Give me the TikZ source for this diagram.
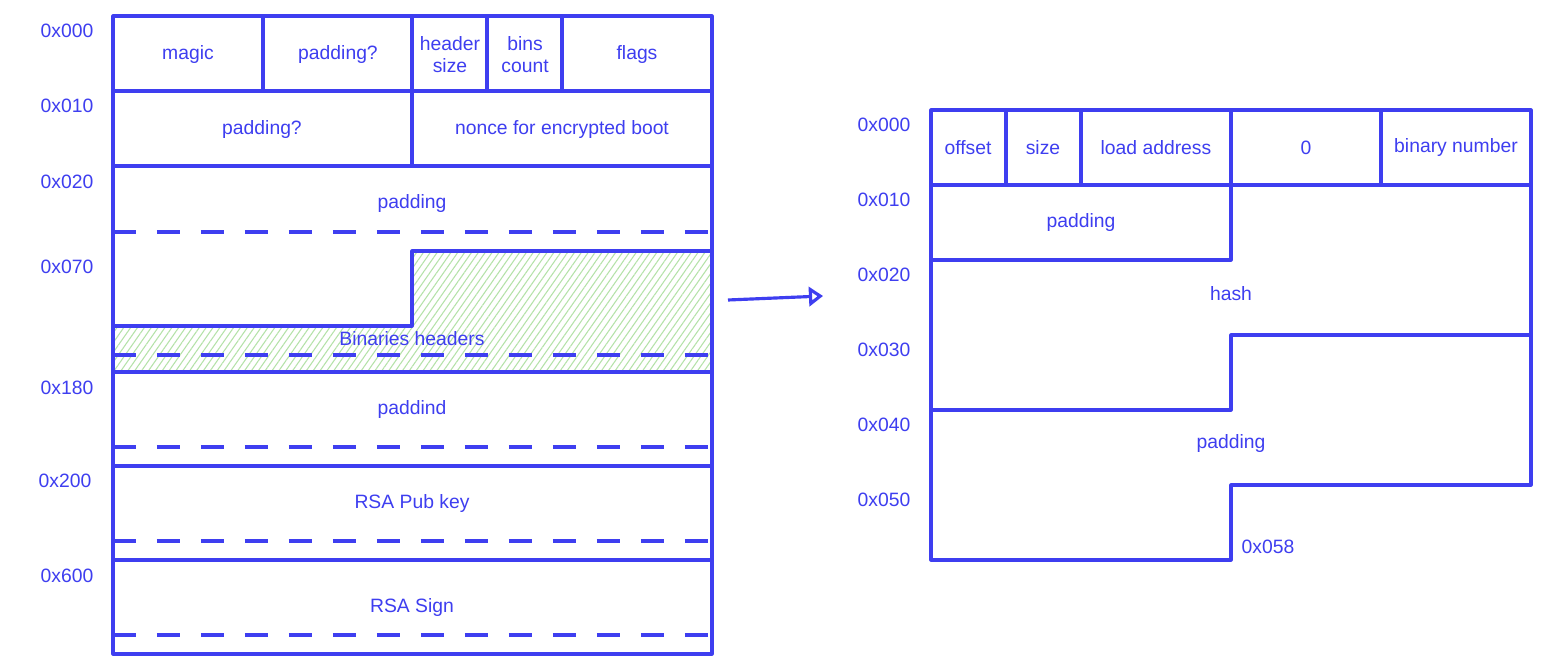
\documentclass[tikz,border=0pt]{standalone}
\usepackage{fontspec}
\setmainfont{Liberation Sans}
\usepackage{tikz}
\usetikzlibrary{arrows.meta,patterns.meta}
\definecolor{inkblue}{RGB}{62,62,240}
\definecolor{hatchgreen}{RGB}{180,226,168}
\tikzset{
  cell/.style={draw=inkblue,line width=1.8pt,line join=round},
  sepline/.style={draw=inkblue,line width=2.4pt,dash pattern=on 0.47cm off 0.41cm},
  lbl/.style={text=inkblue,font=\fontsize{11}{12.5}\selectfont,align=center,inner sep=1pt},
  addr/.style={text=inkblue,font=\fontsize{11}{12.5}\selectfont,inner sep=1pt},
  hatched/.style={pattern={Lines[angle=55,distance=3.2pt,line width=0.6pt]},pattern color=hatchgreen},
}
\begin{document}
\begin{tikzpicture}[x=0.02cm,y=-0.02cm]
\useasboundingbox (0,0) rectangle (1560,671);
\fill[white] (0,0) rectangle (1560,671);

\fill[hatched] (113,326) -- (412,326) -- (412,251) -- (712,251) -- (712,372) -- (113,372) -- cycle;
\draw[cell] (113,16) rectangle (712,654);
\foreach \y in {91,166,372,466,560} \draw[cell] (113,\y) -- (712,\y);
\foreach \x in {263,412,487,562} \draw[cell] (\x,16) -- (\x,91);
\draw[cell] (412,91) -- (412,166);
\draw[cell] (113,326) -- (412,326) -- (412,251) -- (712,251);
\foreach \y in {232,355,447,541,635} \draw[sepline] (113,\y) -- (714,\y);

\node[addr] (l000) at (67,31) {0x000};
\node[addr] (l010) at (67,106) {0x010};
\node[addr] (l020) at (67,182) {0x020};
\node[addr] (l070) at (67,267) {0x070};
\node[addr] (l180) at (67,388) {0x180};
\node[addr] (l200) at (65,481) {0x200};
\node[addr] (l600) at (67,576) {0x600};

\node[lbl] (magic) at (188,55) {magic};
\node[lbl] (pad1) at (338,55) {padding?};
\node[lbl] (hsize) at (450,55) {header\\size};
\node[lbl] (bins) at (525,55) {bins\\count};
\node[lbl] (flags) at (637,55) {flags};
\node[lbl] (pad2) at (262,130) {padding?};
\node[lbl] (nonce) at (562,130) {nonce for encrypted boot};
\node[lbl] (pad3) at (412,204) {padding};
\node[lbl] (binhdr) at (412,339) {Binaries headers};
\node[lbl] (pad4) at (412,410) {paddind};
\node[lbl] (pubkey) at (412,504) {RSA Pub key};
\node[lbl] (sign) at (412,608) {RSA Sign};

\draw[cell] (931,110) rectangle (1531,185);
\foreach \x in {1006,1081,1231,1381} \draw[cell] (\x,110) -- (\x,185);
\draw[cell] (931,185) -- (931,560) -- (1231,560) -- (1231,485) -- (1531,485) -- (1531,185);
\draw[cell] (931,260) -- (1231,260) -- (1231,185);
\draw[cell] (931,410) -- (1231,410) -- (1231,335) -- (1531,335);

\node[addr] (r000) at (884,125) {0x000};
\node[addr] (r010) at (884,200) {0x010};
\node[addr] (r020) at (884,275) {0x020};
\node[addr] (r030) at (884,350) {0x030};
\node[addr] (r040) at (884,425) {0x040};
\node[addr] (r050) at (884,500) {0x050};
\node[addr] (r058) at (1268,547) {0x058};

\node[lbl] (offset) at (968,148) {offset};
\node[lbl] (size) at (1043,148) {size};
\node[lbl] (load) at (1156,148) {load address};
\node[lbl] (zero) at (1306,148) {0};
\node[lbl,anchor=base] (binnum) at (1456,153) {binary number};
\node[lbl] (pad5) at (1081,223) {padding};
\node[lbl] (hash) at (1231,294) {hash};
\node[lbl] (pad6) at (1231,444) {padding};

\coordinate (arrS) at (728,300);
\coordinate (arrE) at (823,296);
\draw[cell,-{Triangle[open,length=8pt,width=11pt]}] (arrS) -- (arrE);
\end{tikzpicture}
\end{document}
